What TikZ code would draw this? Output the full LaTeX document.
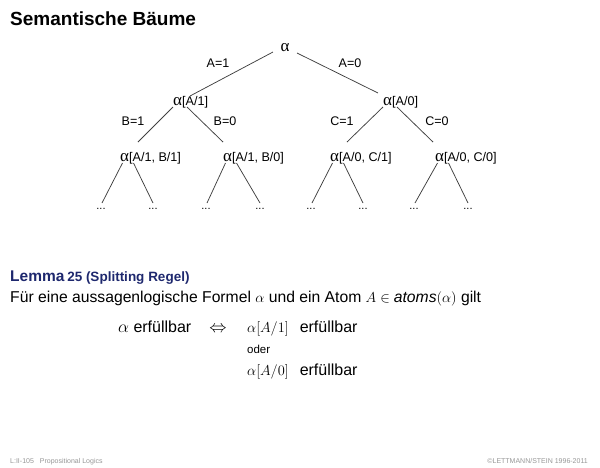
\documentclass[tikz,border=0pt]{standalone}
\usepackage{fontspec}
\setmainfont{Liberation Sans}
\newfontfamily\grkfont{Liberation Serif}
\newcommand\talpha{{\grkfont\fontsize{17}{17}\selectfont α}}
\definecolor{lemmablue}{RGB}{30,40,110}
\definecolor{footgray}{RGB}{150,150,150}
\begin{document}
\begin{tikzpicture}[x=1pt,y=-1pt,
  tlabel/.style={inner sep=0pt, anchor=base west, font=\fontsize{12.6}{14}\selectfont},
  elabel/.style={inner sep=0pt, font=\fontsize{12.5}{14}\selectfont},
  dotnode/.style={inner sep=0pt, font=\fontsize{11}{12}\selectfont},
  tedge/.style={line width=0.75pt, draw=black!75},
  body/.style={inner sep=0pt, anchor=base west, font=\fontsize{16}{19}\selectfont},
  foot/.style={inner sep=0pt, font=\fontsize{7}{8}\selectfont, text=footgray}]
\useasboundingbox (0,0) rectangle (600,467);
% title
\node[inner sep=0pt, anchor=base west, font=\fontsize{19}{22}\selectfont\bfseries] (title) at (10,25) {Semantische Bäume};
% tree nodes
\node[inner sep=0pt] (r) at (285,48) {\talpha};
\node[tlabel] (a1) at (173,105) {\talpha[A/1]};
\node[tlabel] (a0) at (383,105) {\talpha[A/0]};
\node[tlabel] (b11) at (120,161) {\talpha[A/1, B/1]};
\node[tlabel] (b10) at (223,161) {\talpha[A/1, B/0]};
\node[tlabel] (c01) at (330,161) {\talpha[A/0, C/1]};
\node[tlabel] (c00) at (435,161) {\talpha[A/0, C/0]};
% dots
\node[dotnode] (d1) at (101,209) {...};
\node[dotnode] (d2) at (153,209) {...};
\node[dotnode] (d3) at (206,209) {...};
\node[dotnode] (d4) at (260,209) {...};
\node[dotnode] (d5) at (311,209) {...};
\node[dotnode] (d6) at (363,209) {...};
\node[dotnode] (d7) at (414,209) {...};
\node[dotnode] (d8) at (468,209) {...};
% edge labels
\node[elabel] (lA1) at (218,63) {A=1};
\node[elabel] (lA0) at (350,63) {A=0};
\node[elabel] (lB1) at (133,121) {B=1};
\node[elabel] (lB0) at (225,121) {B=0};
\node[elabel] (lC1) at (342,121) {C=1};
\node[elabel] (lC0) at (437,121) {C=0};
% edges
\draw[tedge] ([shift={(-12,4)}]r.center) -- ([shift={(17,-9)}]a1.base west);
\draw[tedge] ([shift={(12,5)}]r.center) -- ([shift={(-5,-12)}]a0.base west);
\draw[tedge] ([shift={(0,2)}]a1.base west) -- ([shift={(18,-19)}]b11.base west);
\draw[tedge] ([shift={(14,2)}]a1.base west) -- ([shift={(0,-19)}]b10.base west);
\draw[tedge] ([shift={(0,2)}]a0.base west) -- ([shift={(17,-19)}]c01.base west);
\draw[tedge] ([shift={(14,2)}]a0.base west) -- ([shift={(-2,-19)}]c00.base west);
\draw[tedge] ([shift={(2.5,2)}]b11.base west) -- ([shift={(1,-6)}]d1.center);
\draw[tedge] ([shift={(13.5,2)}]b11.base west) -- ([shift={(0,-6)}]d2.center);
\draw[tedge] ([shift={(2.5,2)}]b10.base west) -- ([shift={(1,-6)}]d3.center);
\draw[tedge] ([shift={(13.5,2)}]b10.base west) -- ([shift={(0,-6)}]d4.center);
\draw[tedge] ([shift={(2.5,2)}]c01.base west) -- ([shift={(1,-6)}]d5.center);
\draw[tedge] ([shift={(13.5,2)}]c01.base west) -- ([shift={(0,-6)}]d6.center);
\draw[tedge] ([shift={(2.5,2)}]c00.base west) -- ([shift={(1,-6)}]d7.center);
\draw[tedge] ([shift={(13.5,2)}]c00.base west) -- ([shift={(0,-6)}]d8.center);
% lemma
\node[inner sep=0pt, anchor=base west, text=lemmablue, font=\bfseries] (lemma) at (10,281)
  {{\fontsize{15.5}{18}\selectfont Lemma} {\fontsize{13.5}{16}\selectfont 25 (Splitting Regel)}};
\node[body, font=\fontsize{15.7}{19}\selectfont] (intro) at (10,302) {Für eine aussagenlogische Formel $\alpha$ und ein Atom $A\in\textit{atoms}(\alpha)$ gilt};
\node[body] (lhs) at (118,332) {$\alpha$ erfüllbar};
\node[body, anchor=base] (iff) at (218,332) {$\Leftrightarrow$};
\node[body] (rhs1) at (247,332) {{\fontsize{15}{17}\selectfont$\alpha[A/1]$}\hspace{11pt}erfüllbar};
\node[body, font=\fontsize{11.5}{13}\selectfont] (oder) at (247,353) {oder};
\node[body] (rhs2) at (247,375) {{\fontsize{15}{17}\selectfont$\alpha[A/0]$}\hspace{11pt}erfüllbar};
% footer
\node[foot, anchor=base west] (fl) at (10,463) {L:II-105\hspace{6pt}Propositional Logics};
\node[foot, anchor=base east] (fr) at (588,463) {©LETTMANN/STEIN 1996-2011};
\end{tikzpicture}
\end{document}
